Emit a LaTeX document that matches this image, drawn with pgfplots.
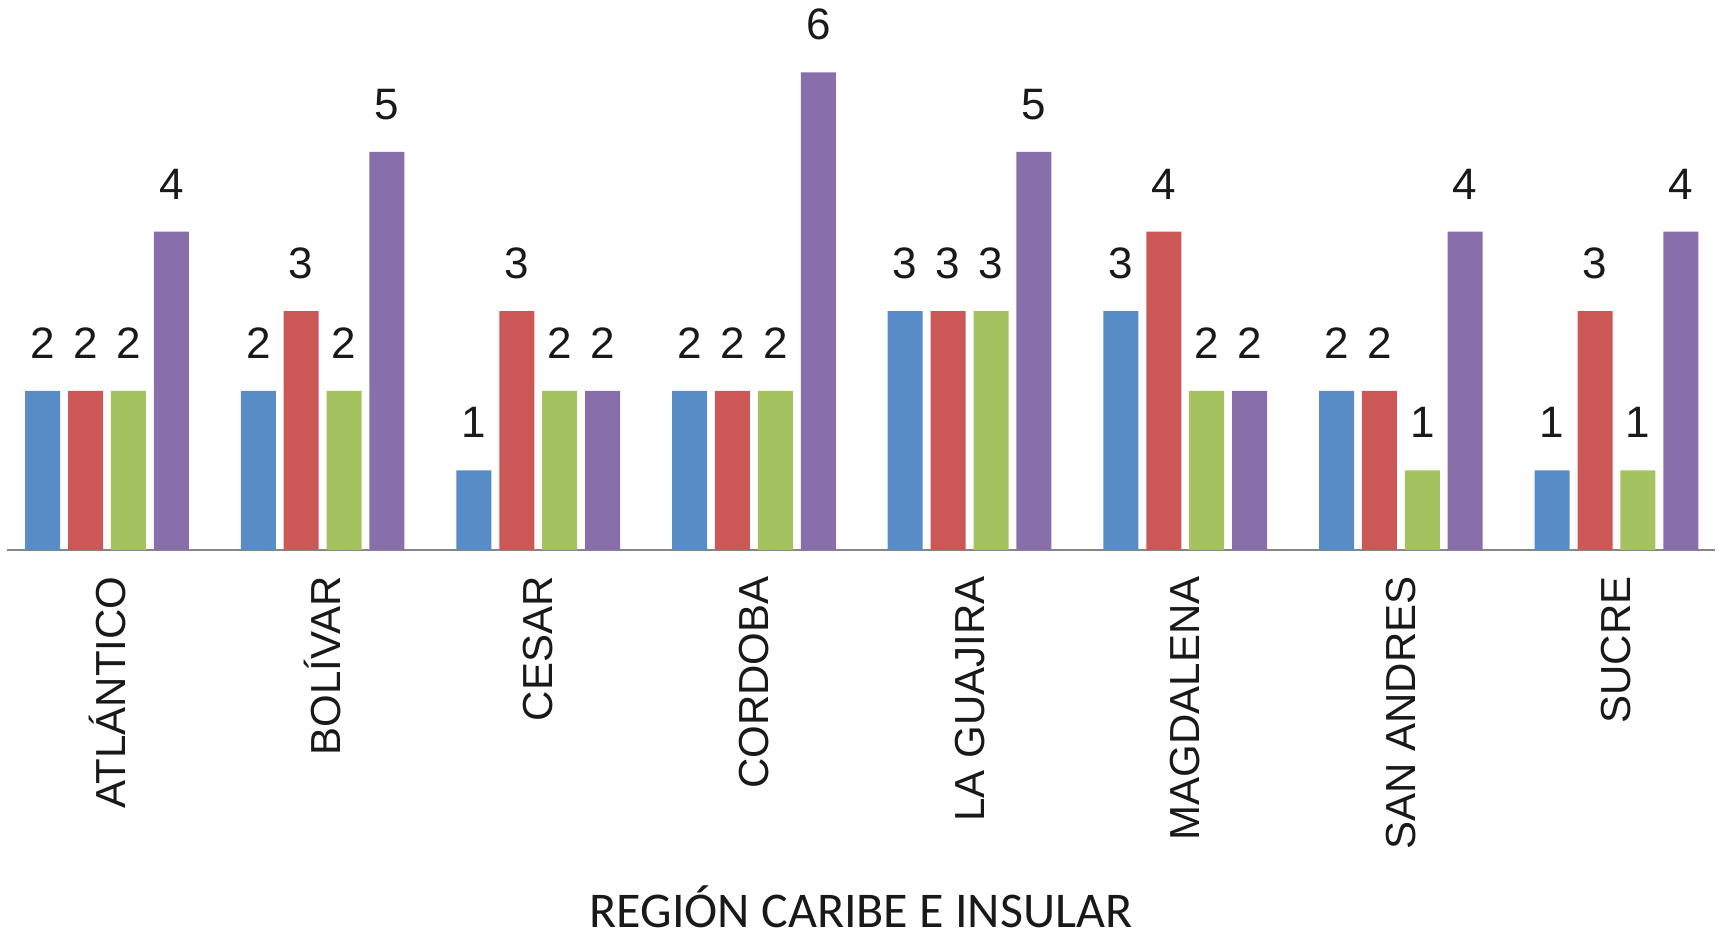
\documentclass[border=0pt]{standalone}
\usepackage{pgfplots}
\pgfplotsset{compat=1.18}
\usepackage{fontspec}
\setmainfont{Liberation Sans}
\newfontfamily\calibri{Carlito}
\definecolor{cA}{RGB}{88,140,199}
\definecolor{cB}{RGB}{203,88,86}
\definecolor{cC}{RGB}{164,194,96}
\definecolor{cD}{RGB}{137,110,172}
\definecolor{txt}{RGB}{25,25,25}
\definecolor{axl}{RGB}{134,134,134}
\begin{document}
\begin{tikzpicture}
\begin{axis}[
  scale only axis,
  width=854pt, height=262.7pt,
  xmin=-0.4637, xmax=7.4568, ymin=0, ymax=6.6,
  ybar=3.95pt, bar width=17.5pt,
  axis x line*=bottom, axis y line=none,
  x axis line style={draw=axl, line width=1pt},
  xtick={0,1,2,3,4,5,6,7},
  xticklabels={ATLÁNTICO,BOLÍVAR,CESAR,CORDOBA,LA GUAJIRA,MAGDALENA,SAN ANDRES,SUCRE},
  major tick length=0pt,
  xticklabel style={yshift=-13pt, rotate=90, anchor=east, inner sep=0pt, text=txt, font=\fontsize{21}{21}\selectfont},
  /pgf/number format/assume math mode=true,
  nodes near coords,
  nodes near coords style={font=\fontsize{22}{22}\selectfont, text=txt, inner sep=0pt, anchor=south, yshift=16pt},
  clip=false,
]
\addplot[fill=cA, draw=none] coordinates {(0,2) (1,2) (2,1) (3,2) (4,3) (5,3) (6,2) (7,1)};
\addplot[fill=cB, draw=none] coordinates {(0,2) (1,3) (2,3) (3,2) (4,3) (5,4) (6,2) (7,3)};
\addplot[fill=cC, draw=none] coordinates {(0,2) (1,2) (2,2) (3,2) (4,3) (5,2) (6,1) (7,1)};
\addplot[fill=cD, draw=none] coordinates {(0,4) (1,5) (2,2) (3,6) (4,5) (5,2) (6,4) (7,4)};
\coordinate (O) at (rel axis cs:0,0);
\node[anchor=base, yshift=-188.5pt, text=txt, font=\calibri\fontsize{25}{25}\selectfont] at (rel axis cs:0.5,0) {REGIÓN CARIBE E INSULAR};
\end{axis}
\pgfresetboundingbox
\path (O) ++(-3.5pt,-195.5pt) rectangle ++(860.5pt,470.5pt);
\end{tikzpicture}
\end{document}
